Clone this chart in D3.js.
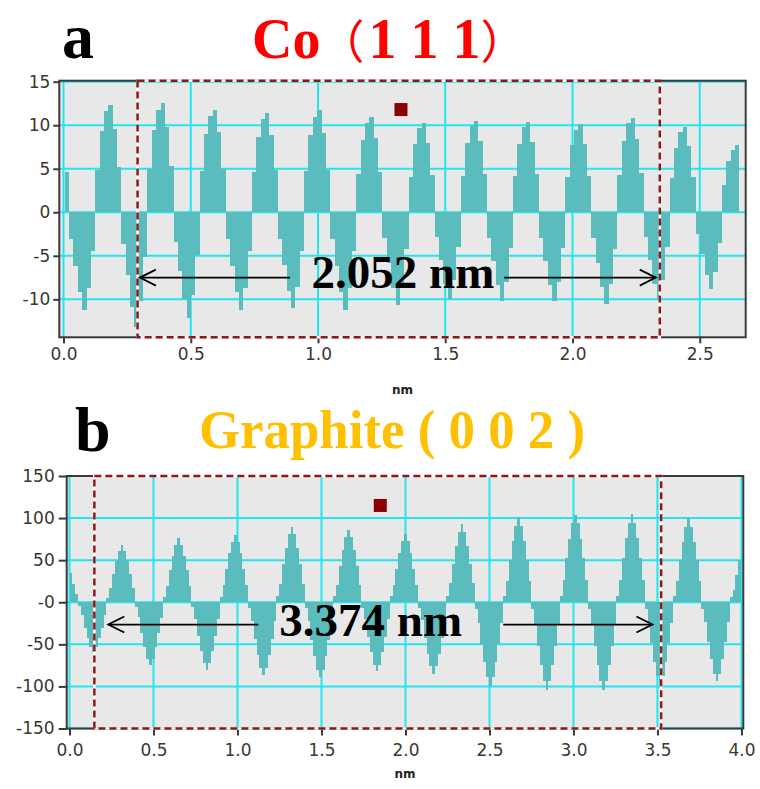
<!DOCTYPE html>
<html>
<head>
<meta charset="utf-8">
<script src="https://cdn.jsdelivr.net/npm/d3@7"></script>
<style>
  body { margin: 0; background: #fff; }
  svg { display: block; }
</style>
</head>
<body>
<div id="chart"></div>
<script>
// ---- Co (111) line profile: sample spacing coStep (nm), first sample at coStart
const coStart = 0.005, coStep = 0.0171;
const coProfile = [
  4.6,
  -3.1, -6.2, -9.2, -11.2, -8.7, -4.5,   4.9, 9.3, 11.6, 12.3, 9.6, 5.2,
  -3.6, -7.2, -10.9, -13.2, -10.2, -5.1, 5.0, 9.5, 11.8, 12.5, 9.8, 5.3,
  -3.4, -6.7, -10.0, -12.2, -9.5, -4.9,  4.7, 9.0, 11.1, 11.8, 9.2, 5.0,
  -3.1, -6.2, -9.2, -11.2, -8.7, -4.5,   4.6, 8.7, 10.7, 11.4, 8.9, 4.8,
  -3.1, -6.1, -9.0, -11.0, -8.6, -4.4,   4.7, 8.9, 11.0, 11.7, 9.1, 4.9,
  -3.1, -6.2, -9.2, -11.2, -8.7, -4.5,   4.4, 8.3, 10.2, 10.9, 8.5, 4.6,
  -3.0, -5.8, -8.7, -10.6, -8.3, -4.2,   4.1, 7.8, 9.7, 10.3, 8.0, 4.3,
  -2.8, -5.5, -8.2, -10.0, -7.8, -4.0,   4.2, 8.0, 9.9, 10.5, 8.2, 4.4,
  -2.9, -5.6, -8.4, -10.2, -8.0, -4.1,   4.2, 7.9, 9.8, 10.4, 8.1, 4.4,
  -2.9, -5.6, -8.4, -10.2, -8.0, -4.1,   4.0, 7.7, 9.5, 10.1, 7.9, 4.2,
  -2.9, -5.8, -8.6, -10.5, -8.2, -4.2,   4.3, 8.2, 10.2, 10.8, 8.4, 4.5,
  -2.8, -5.5, -8.2, -10.0, -7.8, -4.0,   3.9, 7.4, 9.2, 9.8, 7.6, 4.1,
  -2.5, -4.8, -7.2, -8.8, -6.9, -3.5,    3.1, 5.9, 7.2, 7.7
];
const coXTicks = [0, 0.5, 1.0, 1.5, 2.0, 2.5];
const coYTicks = [15, 10, 5, 0, -5, -10];
const coYLabels = ["15", "10", "5", "0", "-5", "-10"];
const coWindow = [0.291, 2.343];          // dashed measurement window (nm)
const coMarker = [1.326, 11.8];
const coArrowY = -7.5;
const coArrowTails = [0.89, 1.731];
const coArrowTips = [0.30, 2.327];
const coLabel = "2.052 nm";
const coLabelPos = [1.334, -8.7];

// ---- Graphite (002) line profile
const grStart = 0, grStep = 0.01687;
const grProfile = [
  35, 22, 10, -5,
  -15, -30, -42, -53, -59, -53, -42, -30, -15, 5, 17, 34, 49, 61, 68, 61,
  49, 34, 17, -6, -18, -37, -53, -67, -74, -67, -53, -37, -19, 6, 19, 38, 55, 68, 76, 68,
  55, 38, 19, -6, -20, -40, -58, -72, -80, -72, -58, -40, -20, 6, 20, 40, 58, 72, 80, 72,
  58, 40, 20, -7, -22, -44, -63, -78, -87, -78, -63, -44, -22, 7, 22, 45, 65, 81, 90, 81,
  65, 45, 22, -7, -22, -45, -64, -80, -89, -80, -64, -45, -22, 7, 21, 43, 62, 77, 86, 77,
  62, 43, 21, -7, -20, -41, -59, -74, -82, -74, -59, -41, -20, 7, 20, 40, 58, 73, 81, 73,
  58, 40, 20, -7, -21, -42, -61, -76, -85, -76, -61, -42, -21, 7, 23, 46, 67, 84, 93, 84,
  67, 46, 23, -8, -25, -50, -71, -89, -99, -89, -71, -50, -25, 8, 25, 50, 73, 91, 101, 91,
  73, 50, 25, -8, -26, -52, -75, -94, -104, -94, -75, -52, -26, 8, 26, 52, 75, 94, 104, 94,
  75, 52, 26, -8, -26, -52, -75, -94, -104, -94, -75, -52, -26, 8, 26, 52, 76, 94, 105, 94,
  76, 52, 26, -8, -25, -49, -71, -88, -98, -88, -71, -49, -25, 8, 25, 50, 72, 90, 100, 90,
  72, 50, 25, -8, -24, -47, -68, -85, -94, -85, -68, -47, -24, 6, 15, 32, 50
];
const grXTicks = [0, 0.5, 1.0, 1.5, 2.0, 2.5, 3.0, 3.5, 4.0];
const grYTicks = [150, 100, 50, 0, -50, -100, -150];
const grYLabels = ["150", "100", "50", "-0", "-50", "-100", "-150"];
const grWindow = [0.148, 3.522];
const grMarker = [1.85, 115];
const grArrowY = -26.5;
const grArrowTails = [1.124, 2.582];
const grArrowTips = [0.231, 3.47];
const grLabel = "3.374 nm";
const grLabelPos = [1.793, -40.5];

const W = 760, H = 789;
const svg = d3.select("#chart").append("svg")
  .attr("width", W).attr("height", H);

const panels = [
  {
    id: "co", box: { left: 59.3, right: 745.7, top: 80.7, bottom: 337.3 },
    xDomain: [-0.0165, 2.6805], yDomain: [-14.36, 15.115],
    start: coStart, step: coStep, values: coProfile,
    xTicks: coXTicks, yTicks: coYTicks, yLabels: coYLabels,
    xTick: [6, 5], yTick: [6, 3],
    win: coWindow, marker: coMarker,
    arrowY: coArrowY, tails: coArrowTails, tips: coArrowTips,
    label: coLabel, labelPos: coLabelPos, unitY: 394
  },
  {
    id: "gr", box: { left: 66.7, right: 743.3, top: 476, bottom: 728.5 },
    xDomain: [-0.0167, 4.011], yDomain: [-150, 150],
    start: grStart, step: grStep, values: grProfile,
    xTicks: grXTicks, yTicks: grYTicks, yLabels: grYLabels,
    xTick: [7, 8], yTick: [8, 4],
    win: grWindow, marker: grMarker,
    arrowY: grArrowY, tails: grArrowTails, tips: grArrowTips,
    label: grLabel, labelPos: grLabelPos, unitY: 778
  }
];

panels.forEach(drawPanel);

// panel letters and titles
svg.append("text").attr("x", 62).attr("y", 58)
  .attr("font-family", "Liberation Serif, Times New Roman, serif")
  .attr("font-weight", "bold").attr("font-size", 64).text("a");
svg.append("text").attr("x", 75).attr("y", 451)
  .attr("font-family", "Liberation Serif, Times New Roman, serif")
  .attr("font-weight", "bold").attr("font-size", 64).text("b");

const coTitle = svg.append("text").attr("x", 252).attr("y", 58)
  .attr("fill", "#ff0000").attr("font-size", 56)
  .attr("font-family", "Liberation Serif, Times New Roman, serif");
coTitle.append("tspan").attr("font-weight", "bold").text("Co");
coTitle.append("tspan").attr("font-family", "Noto Sans CJK SC")
  .attr("font-size", 46).attr("dx", -2).text("（");
coTitle.append("tspan").attr("font-weight", "bold").attr("dx", 4).text("1 1 1");
coTitle.append("tspan").attr("font-family", "Noto Sans CJK SC")
  .attr("font-size", 46).text("）");

svg.append("text").attr("x", 199).attr("y", 448)
  .attr("fill", "#ffc000").attr("font-size", 54).attr("font-weight", "bold")
  .attr("font-family", "Liberation Serif, Times New Roman, serif")
  .attr("textLength", 386).attr("lengthAdjust", "spacingAndGlyphs")
  .text("Graphite ( 0 0 2 )");

function drawPanel(p) {
  const b = p.box;
  const x = d3.scaleLinear().domain(p.xDomain).range([b.left, b.right]);
  const y = d3.scaleLinear().domain(p.yDomain).range([b.bottom, b.top]);
  const g = svg.append("g").attr("class", "panel-" + p.id);

  g.append("rect")
    .attr("x", b.left).attr("y", b.top)
    .attr("width", b.right - b.left).attr("height", b.bottom - b.top)
    .attr("fill", "#e8e8e8");

  // grid
  g.append("g").selectAll("line").data(p.xTicks).join("line")
    .attr("x1", d => x(d)).attr("x2", d => x(d))
    .attr("y1", b.top).attr("y2", b.bottom)
    .attr("stroke", "#22e6ef").attr("stroke-width", 2);
  g.append("g").selectAll("line").data(p.yTicks).join("line")
    .attr("x1", b.left).attr("x2", b.right)
    .attr("y1", d => y(d)).attr("y2", d => y(d))
    .attr("stroke", "#22e6ef").attr("stroke-width", 2);

  // profile as stepped area from zero
  const pts = p.values.map((v, i) => [p.start + i * p.step, v]);
  pts.push([p.start + p.values.length * p.step, p.values[p.values.length - 1]]);
  const area = d3.area()
    .x(d => x(d[0])).y0(y(0)).y1(d => y(d[1]))
    .curve(d3.curveStepAfter);
  g.append("clipPath").attr("id", "clip-" + p.id)
    .append("rect").attr("x", b.left).attr("y", b.top)
    .attr("width", b.right - b.left).attr("height", b.bottom - b.top);
  g.append("path").datum(pts)
    .attr("clip-path", `url(#clip-${p.id})`)
    .attr("shape-rendering", "crispEdges")
    .attr("fill", "#5abcbc").attr("d", area);

  // frame
  g.append("rect")
    .attr("x", b.left).attr("y", b.top)
    .attr("width", b.right - b.left).attr("height", b.bottom - b.top)
    .attr("fill", "none").attr("stroke", "#3a3a3a").attr("stroke-width", 2);

  // axes
  const xa = g.append("g").attr("transform", `translate(0,${b.bottom})`)
    .call(d3.axisBottom(x).tickValues(p.xTicks).tickFormat(d3.format(".1f"))
      .tickSize(p.xTick[0]).tickPadding(p.xTick[1]));
  const ya = g.append("g").attr("transform", `translate(${b.left},0)`)
    .call(d3.axisLeft(y).tickValues(p.yTicks).tickFormat((d, i) => p.yLabels[i])
      .tickSize(p.yTick[0]).tickPadding(p.yTick[1]));
  [xa, ya].forEach(a => {
    a.select(".domain").remove();
    a.selectAll("line").attr("stroke", "#3a3a3a").attr("stroke-width", 2);
    a.selectAll("text").attr("font-family", "DejaVu Sans, Verdana, sans-serif")
      .attr("font-size", 17).attr("fill", "#3a3630");
  });

  g.append("text")
    .attr("x", (b.left + b.right) / 2).attr("y", p.unitY)
    .attr("text-anchor", "middle")
    .attr("font-family", "DejaVu Sans, Verdana, sans-serif")
    .attr("font-weight", "bold").attr("font-size", 12).attr("fill", "#222")
    .text("nm");

  // dashed measurement window
  const wx0 = x(p.win[0]), wx1 = x(p.win[1]);
  [["#ffffff", null], ["#8b1a1a", "7,4"]].forEach(([c, dash]) => {
    g.append("rect")
      .attr("x", wx0).attr("y", b.top)
      .attr("width", wx1 - wx0).attr("height", b.bottom - b.top)
      .attr("fill", "none").attr("stroke", c).attr("stroke-width", 2.5)
      .attr("stroke-dasharray", dash);
  });

  // marker square
  g.append("rect")
    .attr("x", x(p.marker[0]) - 6.5).attr("y", y(p.marker[1]) - 6.5)
    .attr("width", 13).attr("height", 13).attr("fill", "#8b0000");

  // arrows
  const ay = y(p.arrowY);
  p.tails.forEach((t, i) => {
    const tx = x(t), hx = x(p.tips[i]);
    const dir = Math.sign(hx - tx);
    g.append("line").attr("x1", tx).attr("x2", hx).attr("y1", ay).attr("y2", ay)
      .attr("stroke", "#000").attr("stroke-width", 1.8);
    g.append("path")
      .attr("d", `M${hx - dir * 16},${ay - 8}L${hx},${ay}L${hx - dir * 16},${ay + 8}`)
      .attr("fill", "none").attr("stroke", "#000").attr("stroke-width", 1.8);
  });

  g.append("text")
    .attr("x", x(p.labelPos[0])).attr("y", y(p.labelPos[1]))
    .attr("text-anchor", "middle")
    .attr("font-family", "Liberation Serif, Times New Roman, serif")
    .attr("font-weight", "bold").attr("font-size", 47)
    .text(p.label);
}
</script>
</body>
</html>
